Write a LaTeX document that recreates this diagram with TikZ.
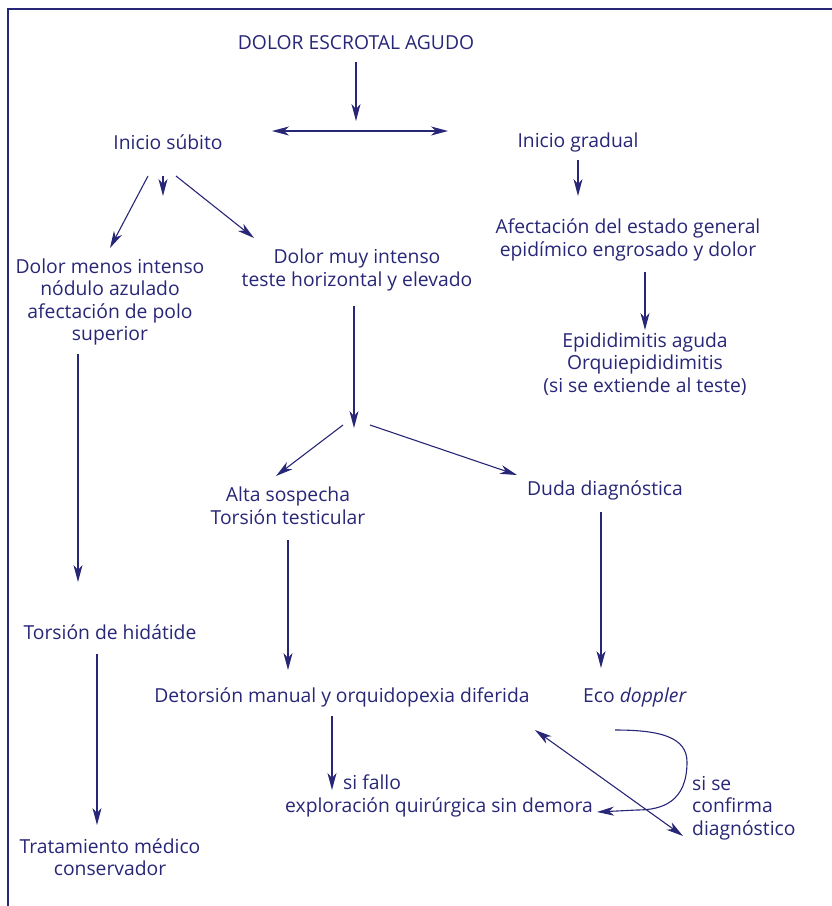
\documentclass[tikz,border=0pt]{standalone}
\usepackage{fontspec}
\setmainfont{Open Sans}
\usetikzlibrary{arrows.meta}
\definecolor{navy}{RGB}{40,38,118}
\tikzset{
  txt/.style={inner sep=0pt, align=center, text=navy, font=\fontsize{19.3}{22.6}\selectfont},
  arr/.style={-{Stealth[length=17pt,width=9pt,inset=5pt]}, line width=1.1pt, draw=navy},
  darr/.style={{Stealth[length=17pt,width=9pt,inset=5pt]}-{Stealth[length=17pt,width=9pt,inset=5pt]}, line width=1.1pt, draw=navy}
}
\begin{document}
\begin{tikzpicture}[x=1pt,y=-1pt]
      \useasboundingbox (0,0) rectangle (832,906);
      % --- frame ---
      \draw[navy, line width=2pt] (8,906) -- (8,9) -- (832,9);
      % --- nodes ---
      \node[txt] (agudo) at (356,43) {DOLOR ESCROTAL AGUDO};
      \node[txt] (subito) at (168,142) {Inicio súbito};
      \node[txt] (gradual) at (578,142) {Inicio gradual};
      \node[txt] (dmenos) at (110,302) {Dolor menos intenso\\nódulo azulado\\afectación de polo\\superior};
      \node[txt] (dmuy) at (357,270) {Dolor muy intenso\\teste horizontal y elevado};
      \node[txt] (afect) at (628,240) {Afectación del estado general\\epidímico engrosado y dolor};
      \node[txt] (epid) at (645,364) {Epididimitis aguda\\Orquiepididimitis\\(si se extiende al teste)};
      \node[txt] (alta) at (288,506) {Alta sospecha\\Torsión testicular};
      \node[txt] (duda) at (605,490) {Duda diagnóstica};
      \node[txt] (hid) at (110,632) {Torsión de hidátide};
      \node[txt] (det) at (342,697) {Detorsión manual y orquidopexia diferida};
      \node[txt] (eco) at (635,697) {Eco \textit{doppler}};
      \node[txt] (trat) at (110,857) {Tratamiento médico\\conservador};
      \node[txt, align=left, anchor=west] (fallo) at (285,796) {\hspace*{58pt}si fallo\\exploración quirúrgica sin demora};
      \node[txt, align=left, anchor=west] (conf) at (692,808) {si se\\confirma\\diagnóstico};
      \coordinate (junc1) at (356,121);
      \coordinate (junc2) at (354,428);
      \coordinate (mid) at (163,196);
      % --- connectors ---
      \draw[arr] ([shift={(0,19)}]agudo.center) -- (junc1);
      \draw[darr] ([shift={(104,-11)}]subito.center) -- ([shift={(-130,-11)}]gradual.center);
      \draw[arr] ([shift={(-20,34)}]subito.center) -- ([shift={(0,-54)}]dmenos.center);
      \draw[arr] ([shift={(-5,34)}]subito.center) -- (mid);
      \draw[arr] ([shift={(8,34)}]subito.center) -- ([shift={(-103,-32)}]dmuy.center);
      \draw[arr] ([shift={(0,18)}]gradual.center) -- ([shift={(-50,-44)}]afect.center);
      \draw[arr] ([shift={(17,32)}]afect.center) -- ([shift={(0,-34)}]epid.center);
      \draw[arr] ([shift={(-3,36)}]dmuy.center) -- (junc2);
      \draw[arr] ([shift={(-11,-3)}]junc2) -- ([shift={(-12,-30)}]alta.center);
      \draw[arr] ([shift={(16,-3)}]junc2) -- ([shift={(-88,-15)}]duda.center);
      \draw[arr] ([shift={(-32,52)}]dmenos.center) -- ([shift={(-32,-50)}]hid.center);
      \draw[arr] ([shift={(-13,22)}]hid.center) -- ([shift={(-13,-32)}]trat.center);
      \draw[arr] ([shift={(0,34)}]alta.center) -- ([shift={(-54,-27)}]det.center);
      \draw[arr] ([shift={(-4,22)}]duda.center) -- ([shift={(-34,-29)}]eco.center);
      \draw[arr] ([shift={(-10,19)}]det.center) -- ([shift={(47,-6)}]fallo.west);
      % curve from Eco doppler back to the surgery node
      \draw[arr] ([shift={(-20,33)}]eco.center) .. controls +(45,0) and +(0,-25) .. ([shift={(52,65)}]eco.center)
        .. controls +(0,40) and +(25,0) .. ([shift={(352,14)}]fallo.west) -- ([shift={(312,16)}]fallo.west);
      \draw[darr] ([shift={(193,33)}]det.center) -- ([shift={(-9,28)}]conf.west);
\end{tikzpicture}
\end{document}
